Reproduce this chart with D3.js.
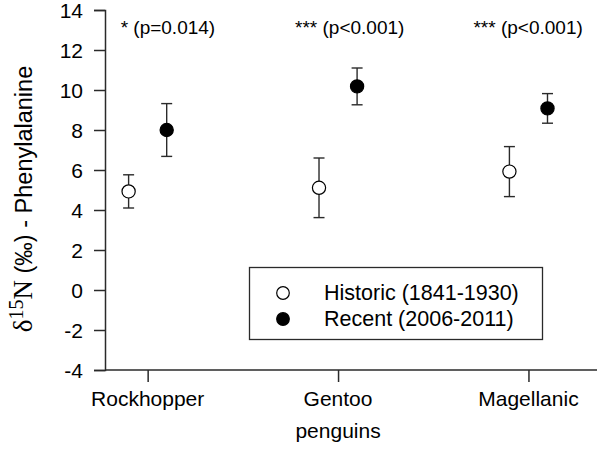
<!DOCTYPE html>
<html>
<head>
<meta charset="utf-8">
<script src="https://cdn.jsdelivr.net/npm/d3@7"></script>
<style>
  html, body { margin: 0; padding: 0; background: #fff; }
  svg { display: block; }
  text { font-family: "Liberation Sans", Arial, sans-serif; fill: #000; }
</style>
</head>
<body>
<svg id="chart" width="598" height="451"></svg>
<script>
// ---- data ----
const categories = ["Rockhopper", "Gentoo", "Magellanic"];
const historicMean = [4.93, 5.11, 5.92];
const historicErr  = [0.83, 1.49, 1.25];
const recentMean   = [8.00, 10.18, 9.08];
const recentErr    = [1.32, 0.92, 0.74];
const significance = ["* (p=0.014)", "*** (p<0.001)", "*** (p<0.001)"];
const yTicks = [-4, -2, 0, 2, 4, 6, 8, 10, 12, 14];
const seriesNames = ["Historic (1841-1930)", "Recent (2006-2011)"];
const xTitle2 = "penguins";

// ---- layout ----
const svg = d3.select("#chart");
const axisColor = "#2a2a2a";
const FS = "21px";

const x = d3.scaleLinear().domain([0.776, 3.36]).range([105, 597]);
const y = d3.scaleLinear().domain([-4, 14]).range([370, 10]);
const offset = 0.1;

// y axis
const yAxis = d3.axisLeft(y).tickValues(yTicks).tickSize(11).tickPadding(11).tickFormat(d => String(d));
const gy = svg.append("g").attr("transform", "translate(105,0)").call(yAxis);
gy.select(".domain").attr("stroke", axisColor).attr("stroke-width", 1.5);
gy.selectAll(".tick line").attr("stroke", axisColor).attr("stroke-width", 1.5);
gy.selectAll(".tick text").attr("font-size", FS)
  .attr("font-family", "Liberation Sans, Arial, sans-serif").attr("fill", "#000").attr("dy", "0.35em");

// x axis
const xAxis = d3.axisBottom(x).tickValues([1, 2, 3]).tickSize(12).tickFormat("");
const gx = svg.append("g").attr("transform", "translate(0,370)").call(xAxis);
gx.select(".domain").attr("stroke", axisColor).attr("stroke-width", 1.5)
  .attr("d", "M105,0H597");
gx.selectAll(".tick line").attr("stroke", axisColor).attr("stroke-width", 1.5);

// category labels
svg.append("g").selectAll("text").data(categories).join("text")
  .attr("x", (d, i) => x(i + 1))
  .attr("y", 406)
  .attr("text-anchor", "middle")
  .attr("font-size", FS)
  .text(d => d);
svg.append("text").attr("x", x(2)).attr("y", 438).attr("text-anchor", "middle")
  .attr("font-size", FS).text(xTitle2);

// y label
const serif = "Liberation Serif, Times New Roman, serif";
const yl = svg.append("text")
  .attr("transform", "translate(32,199) rotate(-90)")
  .attr("text-anchor", "middle")
  .attr("font-size", "23.5px");
yl.append("tspan").attr("font-family", serif).attr("font-size", "27px").text("δ");
yl.append("tspan").attr("font-family", serif)
  .attr("font-size", "20px").attr("dy", "-9").text("15");
yl.append("tspan").attr("font-family", serif).attr("font-size", "27px")
  .attr("dy", "9").text("N");
yl.append("tspan").text(" (‰) - Phenylalanine");

// significance annotations
const annotShift = [-27, -43, -55];
svg.append("g").selectAll("text").data(significance).join("text")
  .attr("x", (d, i) => x(i + 1) + annotShift[i])
  .attr("y", 34)
  .attr("font-size", "19px")
  .text(d => d);

// error bars + points
function drawSeries(means, errs, dx, fill) {
  const g = svg.append("g");
  const cap = 5.5;
  means.forEach((m, i) => {
    const cx = x(i + 1 + dx);
    const lo = y(m - errs[i]), hi = y(m + errs[i]);
    g.append("line").attr("x1", cx).attr("x2", cx).attr("y1", lo).attr("y2", hi)
      .attr("stroke", axisColor).attr("stroke-width", 1.4);
    g.append("line").attr("x1", cx - cap).attr("x2", cx + cap).attr("y1", lo).attr("y2", lo)
      .attr("stroke", axisColor).attr("stroke-width", 1.4);
    g.append("line").attr("x1", cx - cap).attr("x2", cx + cap).attr("y1", hi).attr("y2", hi)
      .attr("stroke", axisColor).attr("stroke-width", 1.4);
  });
  g.selectAll("circle").data(means).join("circle")
    .attr("cx", (d, i) => x(i + 1 + dx))
    .attr("cy", d => y(d))
    .attr("r", 6.6)
    .attr("fill", fill)
    .attr("stroke", "#000").attr("stroke-width", 1.2);
}
drawSeries(historicMean, historicErr, -offset, "#fff");
drawSeries(recentMean, recentErr, offset, "#000");

// legend
const lg = svg.append("g");
lg.append("rect").attr("x", 249.5).attr("y", 267.5).attr("width", 293).attr("height", 72)
  .attr("fill", "#fff").attr("stroke", axisColor).attr("stroke-width", 1.3);
const fills = ["#fff", "#000"];
seriesNames.forEach((s, i) => {
  const cy = 293 + i * 26;
  lg.append("circle").attr("cx", 283).attr("cy", cy).attr("r", 6.3)
    .attr("fill", fills[i]).attr("stroke", "#000").attr("stroke-width", 1.2);
  lg.append("text").attr("x", 324).attr("y", cy + 7)
    .attr("font-size", "21.5px").text(s);
});
</script>
</body>
</html>
